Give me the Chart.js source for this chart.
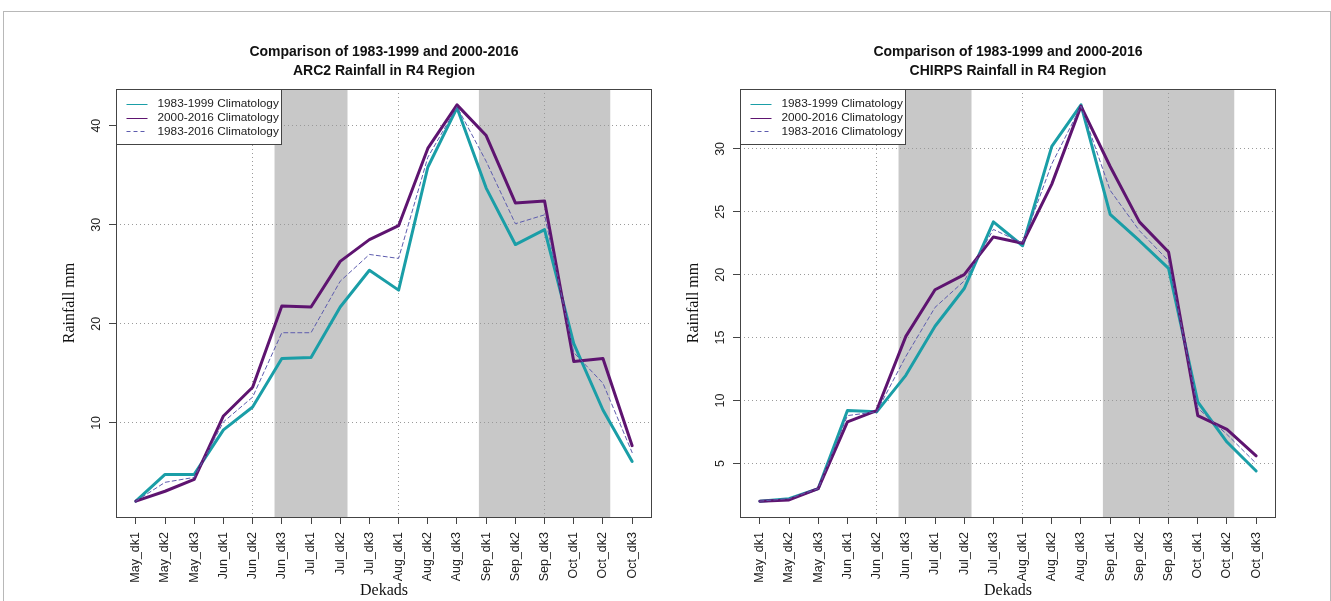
<!DOCTYPE html>
<html>
<head>
<meta charset="utf-8">
<script src="https://cdn.jsdelivr.net/npm/chart.js@4.4.1/dist/chart.umd.min.js"></script>
<style>
  html, body { margin: 0; padding: 0; background: #fff; }
  body { width: 1331px; height: 601px; position: relative; overflow: hidden; }
  .frame { position: absolute; left: 3px; top: 11px; width: 1326px; height: 700px; border: 1px solid #b8b8b8; }
  .panel { position: absolute; top: 0; width: 665px; height: 601px; }
</style>
</head>
<body>
<div class="frame"></div>
<div class="panel" style="left:0"><canvas id="arc2" width="665" height="601"></canvas></div>
<div class="panel" style="left:624px"><canvas id="chirps" width="665" height="601"></canvas></div>
<script>
// Dekads of the May-October season
const dekads = ['May_dk1','May_dk2','May_dk3','Jun_dk1','Jun_dk2','Jun_dk3',
                'Jul_dk1','Jul_dk2','Jul_dk3','Aug_dk1','Aug_dk2','Aug_dk3',
                'Sep_dk1','Sep_dk2','Sep_dk3','Oct_dk1','Oct_dk2','Oct_dk3'];

const seriesNames = ['1983-1999 Climatology', '2000-2016 Climatology', '1983-2016 Climatology'];

// ARC2 dekadal rainfall climatology (mm)
const arc2Early = [2.1, 4.8, 4.8, 9.3, 11.6, 16.5, 16.6, 21.7, 25.4, 23.4, 35.8, 41.8, 33.7, 28.0, 29.5, 18.0, 11.3, 6.1];
const arc2Late  = [2.1, 3.1, 4.3, 10.7, 13.6, 21.8, 21.7, 26.3, 28.5, 29.9, 37.7, 42.1, 39.0, 32.2, 32.4, 16.2, 16.5, 7.7];
const arc2All   = [2.1, 4.0, 4.5, 10.1, 12.6, 19.1, 19.1, 24.3, 27.0, 26.6, 36.8, 41.9, 36.4, 30.1, 31.0, 17.1, 14.0, 7.0];

// CHIRPS dekadal rainfall climatology (mm)
const chirpsEarly = [2.0, 2.2, 3.0, 9.2, 9.1, 12.0, 15.9, 18.9, 24.2, 22.3, 30.2, 33.5, 24.8, 22.7, 20.5, 9.9, 6.7, 4.4];
const chirpsLate  = [2.0, 2.1, 3.0, 8.3, 9.2, 15.1, 18.8, 20.0, 23.0, 22.5, 27.2, 33.4, 28.6, 24.2, 21.8, 8.8, 7.7, 5.6];
const chirpsAll   = [2.0, 2.2, 3.0, 8.8, 9.1, 13.5, 17.4, 19.5, 23.6, 22.5, 28.8, 33.4, 26.7, 23.5, 21.1, 9.4, 7.3, 5.0];

// Y axis tick labels
const arc2Ticks = [10, 20, 30, 40];
const chirpsTicks = [5, 10, 15, 20, 25, 30];

// Shaded periods (first and last dekad of each)
const shadedPeriods = [['Jun_dk3', 'Jul_dk2'], ['Sep_dk1', 'Oct_dk2']];
// Dekads marked with a vertical reference line
const markedDekads = ['Jun_dk2', 'Aug_dk1', 'Sep_dk3'];

const COL_EARLY = '#1a9ea7';
const COL_LATE = '#5e1470';
const COL_ALL = '#5d5cae';
const SANS = '"Liberation Sans", Arial, Helvetica, sans-serif';
const SERIF = '"Liberation Serif", "Times New Roman", serif';

function padRange(lists) {
  const all = [].concat(...lists);
  const lo = Math.min(...all), hi = Math.max(...all);
  const pad = (hi - lo) * 0.04;
  return [lo - pad, hi + pad];
}

const decorPlugin = {
  id: 'decor',
  beforeDraw(chart, args, opts) {
    const { ctx, chartArea: a, scales: { x } } = chart;
    ctx.save();
    ctx.fillStyle = '#c8c8c8';
    shadedPeriods.forEach(([s, e]) => {
      const x0 = x.getPixelForValue(dekads.indexOf(s) + 1 - 0.25);
      const x1 = x.getPixelForValue(dekads.indexOf(e) + 1 + 0.25);
      ctx.fillRect(x0, a.top, x1 - x0, a.bottom - a.top);
    });
    ctx.restore();
  },
  afterDraw(chart, args, opts) {
    const { ctx, chartArea: a, scales: { y } } = chart;
    ctx.save();
    // plot box
    ctx.strokeStyle = '#444';
    ctx.lineWidth = 1;
    ctx.strokeRect(Math.round(a.left) + 0.5, Math.round(a.top) + 0.5,
                   Math.round(a.right - a.left) - 1, Math.round(a.bottom - a.top));
    // rotated y tick labels
    ctx.fillStyle = '#222';
    ctx.font = '12.5px ' + SANS;
    ctx.textAlign = 'center';
    ctx.textBaseline = 'middle';
    y.ticks.forEach(t => {
      const py = y.getPixelForValue(t.value);
      ctx.save();
      ctx.translate(a.left - 19.5, py);
      ctx.rotate(-Math.PI / 2);
      ctx.fillText(String(t.value), 0, 0);
      ctx.restore();
    });
    // title
    const cx = (a.left + a.right) / 2;
    ctx.font = 'bold 14px ' + SANS;
    ctx.fillStyle = '#111';
    ctx.fillText(opts.title[0], cx, 52);
    ctx.fillText(opts.title[1], cx, 71);
    // legend
    const lx = Math.round(a.left) + 0.5, ly = Math.round(a.top) + 0.5;
    ctx.fillStyle = '#fff';
    ctx.fillRect(lx, ly, 165, 55);
    ctx.strokeStyle = '#444';
    ctx.strokeRect(lx, ly, 165, 55);
    const styles = [[COL_EARLY, []], [COL_LATE, []], [COL_ALL, [4, 3]]];
    ctx.font = '11.8px ' + SANS;
    ctx.textAlign = 'left';
    seriesNames.forEach((name, i) => {
      const ry = ly + 14.5 + i * 13.7;
      ctx.strokeStyle = styles[i][0];
      ctx.setLineDash(styles[i][1]);
      ctx.beginPath();
      ctx.moveTo(lx + 10, Math.round(ry) + 0.5);
      ctx.lineTo(lx + 31, Math.round(ry) + 0.5);
      ctx.stroke();
      ctx.setLineDash([]);
      ctx.fillStyle = '#222';
      ctx.fillText(name, lx + 41, ry);
    });
    ctx.restore();
  }
};

function makeChart(id, title, early, late, all, yTicks) {
  const [ymin, ymax] = padRange([early, late, all]);
  const xpad = (dekads.length - 1) * 0.04;
  const toPts = arr => arr.map((v, i) => ({ x: i + 1, y: v }));
  return new Chart(document.getElementById(id), {
    type: 'line',
    data: {
      datasets: [
        { label: seriesNames[0], data: toPts(early), borderColor: COL_EARLY, borderWidth: 3, order: 2 },
        { label: seriesNames[1], data: toPts(late), borderColor: COL_LATE, borderWidth: 3, order: 1 },
        { label: seriesNames[2], data: toPts(all), borderColor: COL_ALL, borderWidth: 1, borderDash: [4, 3], order: 0 }
      ]
    },
    options: {
      responsive: false,
      devicePixelRatio: 1,
      animation: false,
      layout: { padding: { top: 89, right: 13, left: 0, bottom: 0 } },
      elements: {
        point: { radius: 0, hoverRadius: 0 },
        line: { tension: 0, fill: false, borderJoinStyle: 'round', borderCapStyle: 'round' }
      },
      plugins: {
        legend: { display: false },
        tooltip: { enabled: false },
        decor: { title }
      },
      scales: {
        x: {
          type: 'linear',
          min: 1 - xpad,
          max: dekads.length + xpad,
          afterBuildTicks: s => { s.ticks = dekads.map((d, i) => ({ value: i + 1 })); },
          afterFit: s => { s.height = 84; },
          ticks: {
            autoSkip: false,
            minRotation: 90,
            maxRotation: 90,
            padding: 8,
            color: '#222',
            font: { family: SANS, size: 12.5 },
            callback: v => dekads[v - 1]
          },
          grid: {
            color: c => markedDekads.includes(dekads[c.index]) ? '#9a9a9a' : 'rgba(0,0,0,0)',
            lineWidth: 1,
            tickLength: 7,
            tickColor: '#444',
            tickWidth: 1
          },
          border: { display: false, dash: [1, 3] },
          title: {
            display: true,
            text: 'Dekads',
            color: '#111',
            font: { family: SERIF, size: 16 },
            padding: { top: 0, bottom: 1 }
          }
        },
        y: {
          min: ymin,
          max: ymax,
          afterBuildTicks: s => { s.ticks = yTicks.map(v => ({ value: v })); },
          afterFit: s => { s.width = 116; },
          ticks: { display: false },
          grid: {
            color: '#9a9a9a',
            lineWidth: 1,
            tickLength: 7,
            tickColor: '#444',
            tickWidth: 1
          },
          border: { display: false, dash: [1, 3] },
          title: {
            display: true,
            text: 'Rainfall mm',
            color: '#111',
            font: { family: SERIF, size: 16 },
            padding: { top: 60, bottom: 0 }
          }
        }
      }
    },
    plugins: [decorPlugin]
  });
}

makeChart('arc2', ['Comparison of 1983-1999 and 2000-2016', 'ARC2 Rainfall in R4 Region'],
          arc2Early, arc2Late, arc2All, arc2Ticks);
makeChart('chirps', ['Comparison of 1983-1999 and 2000-2016', 'CHIRPS Rainfall in R4 Region'],
          chirpsEarly, chirpsLate, chirpsAll, chirpsTicks);
</script>
</body>
</html>
